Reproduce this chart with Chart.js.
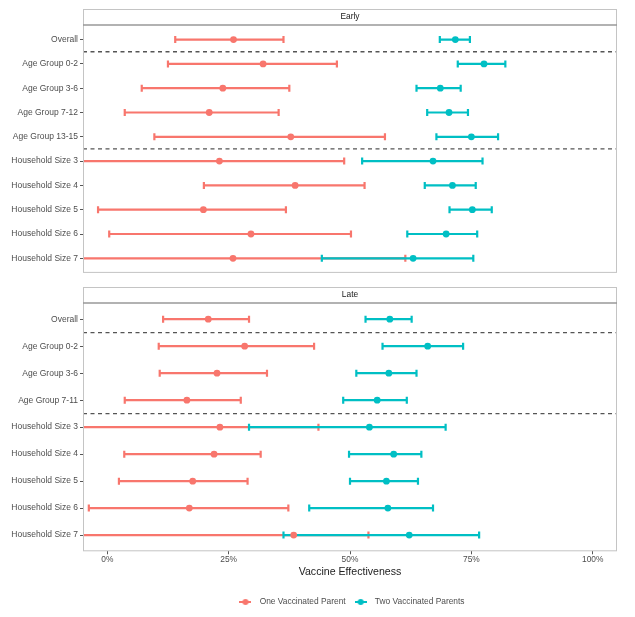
<!DOCTYPE html>
<html>
<head>
<meta charset="utf-8">
<script src="https://cdn.jsdelivr.net/npm/chart.js@4/dist/chart.umd.min.js"></script>
<style>
  html, body { margin: 0; padding: 0; background: #ffffff; }
  #wrap { position: relative; width: 635px; height: 617px; }
  canvas { position: absolute; left: 0; }
  #c1 { top: 0; }
  #c2 { top: 280px; }
</style>
</head>
<body>
<div id="wrap">
  <canvas id="c1" width="635" height="280"></canvas>
  <canvas id="c2" width="635" height="337"></canvas>
</div>
<script>
// ---------- DATA ----------
const earlyLabels = ['Overall', 'Age Group 0-2', 'Age Group 3-6', 'Age Group 7-12', 'Age Group 13-15',
  'Household Size 3', 'Household Size 4', 'Household Size 5', 'Household Size 6', 'Household Size 7'];
const lateLabels = ['Overall', 'Age Group 0-2', 'Age Group 3-6', 'Age Group 7-11',
  'Household Size 3', 'Household Size 4', 'Household Size 5', 'Household Size 6', 'Household Size 7'];

const earlyOneEst  = [26.0, 32.1, 23.8, 21.0, 37.8, 23.1, 38.7, 19.8, 29.6, 25.9];
const earlyOneLow  = [14.0, 12.5, 7.1, 3.6, 9.7, -9.0, 19.9, -1.9, 0.4, -8.0];
const earlyOneHigh = [36.3, 47.3, 37.5, 35.3, 57.2, 48.8, 53.0, 36.8, 50.2, 61.4];
const earlyTwoEst  = [71.7, 77.6, 68.6, 70.4, 75.0, 67.1, 71.1, 75.2, 69.8, 63.0];
const earlyTwoLow  = [68.5, 72.2, 63.7, 65.9, 67.8, 52.5, 65.4, 70.5, 61.8, 44.2];
const earlyTwoHigh = [74.7, 82.0, 72.8, 74.3, 80.5, 77.3, 75.9, 79.2, 76.2, 75.4];

const lateOneEst  = [20.8, 28.3, 22.6, 16.4, 23.2, 22.0, 17.6, 16.9, 38.4];
const lateOneLow  = [11.5, 10.6, 10.8, 3.6, -10.0, 3.5, 2.4, -3.8, -9.0];
const lateOneHigh = [29.2, 42.6, 32.9, 27.5, 43.5, 31.6, 28.9, 37.3, 53.8];
const lateTwoEst  = [58.2, 66.0, 58.0, 55.6, 54.0, 59.0, 57.5, 57.8, 62.2];
const lateTwoLow  = [53.2, 56.7, 51.3, 48.6, 29.2, 49.8, 50.0, 41.6, 36.3];
const lateTwoHigh = [62.7, 73.3, 63.7, 61.7, 69.7, 64.7, 64.0, 67.1, 76.6];

const earlySeparators = [1.5, 5.5];
const lateSeparators = [1.5, 4.5];
const xTicks = [0, 25, 50, 75, 100];
const seriesNames = ['One Vaccinated Parent', 'Two Vaccinated Parents'];
const panelTitles = ['Early', 'Late'];

// ---------- STYLE ----------
const RED = '#F8766D';
const CYAN = '#00BFC4';
const FONT = '"Liberation Sans", Arial, Helvetica, sans-serif';
const TEXT = '#4d4d4d';

function makeKey(color) {
  const c = document.createElement('canvas');
  c.width = 12; c.height = 8;
  const g = c.getContext('2d');
  g.strokeStyle = color; g.lineWidth = 2;
  g.beginPath(); g.moveTo(0, 4); g.lineTo(12, 4); g.stroke();
  g.fillStyle = color;
  g.beginPath(); g.arc(6, 4, 3, 0, Math.PI * 2); g.fill();
  return c;
}
const keyImgs = [makeKey(RED), makeKey(CYAN)];

function ds(name, est, lo, hi, color) {
  return {
    label: name,
    data: est.map((v, i) => ({x: v, y: i + 1})),
    errLow: lo, errHigh: hi,
    backgroundColor: color, borderColor: color,
    pointRadius: 3.4, pointHoverRadius: 3.4, borderWidth: 0,
    pointStyle: 'circle'
  };
}

const panelPlugin = {
  id: 'panel',
  beforeDatasetsDraw(chart) {
    const {ctx, chartArea: a, scales} = chart;
    const x = scales.x, y = scales.y;
    const o = chart.options.plugins.panel;
    ctx.save();
    // strip
    ctx.fillStyle = '#ffffff';
    ctx.fillRect(a.left, a.top - 16, a.right - a.left, 16);
    ctx.fillStyle = '#1a1a1a';
    ctx.font = '8.4px ' + FONT;
    ctx.textAlign = 'center'; ctx.textBaseline = 'middle';
    ctx.fillText(o.title, (a.left + a.right) / 2, a.top - 8);
    // separators
    ctx.strokeStyle = '#555555'; ctx.lineWidth = 1.3;
    ctx.setLineDash([4, 3.5]);
    o.separators.forEach(s => {
      const py = y.getPixelForValue(s);
      ctx.beginPath(); ctx.moveTo(a.left, py); ctx.lineTo(a.right, py); ctx.stroke();
    });
    ctx.setLineDash([]);
    // error bars
    ctx.beginPath(); ctx.rect(a.left, a.top, a.right - a.left, a.bottom - a.top); ctx.clip();
    chart.data.datasets.forEach(d => {
      ctx.strokeStyle = d.borderColor; ctx.lineWidth = 2.2;
      d.data.forEach((p, i) => {
        const py = y.getPixelForValue(p.y);
        const x1 = x.getPixelForValue(d.errLow[i]);
        const x2 = x.getPixelForValue(d.errHigh[i]);
        ctx.beginPath();
        ctx.moveTo(x1, py); ctx.lineTo(x2, py);
        ctx.moveTo(x1, py - 3.5); ctx.lineTo(x1, py + 3.5);
        ctx.moveTo(x2, py - 3.5); ctx.lineTo(x2, py + 3.5);
        ctx.stroke();
      });
    });
    ctx.restore();
  },
  afterDraw(chart) {
    const {ctx, chartArea: a} = chart;
    ctx.save();
    ctx.strokeStyle = '#c4c4c4'; ctx.lineWidth = 1;
    ctx.strokeRect(a.left + 0.5, a.top - 16 + 0.5, a.right - a.left - 1, a.bottom - a.top + 16 - 1);
    ctx.strokeStyle = '#999999'; ctx.lineWidth = 1.3;
    ctx.beginPath(); ctx.moveTo(a.left, a.top); ctx.lineTo(a.right, a.top); ctx.stroke();
    ctx.restore();
  }
};

function yScale(labels) {
  return {
    type: 'linear', reverse: true, min: 0.4, max: labels.length + 0.6,
    afterBuildTicks(s) { s.ticks = labels.map((_, i) => ({value: i + 1})); },
    afterFit(s) { s.width = 83; },
    ticks: {
      autoSkip: false, padding: 2, color: TEXT,
      font: {family: FONT, size: 8.5},
      callback: (v) => labels[Math.round(v) - 1]
    },
    grid: {drawOnChartArea: false, drawTicks: true, tickLength: 3, color: '#555555', lineWidth: 1},
    border: {display: false}
  };
}

function build(canvasId, labels, sets, separators, title, bottomAxis) {
  const xs = {
    type: 'linear', min: -5, max: 105, display: bottomAxis,
    afterBuildTicks(s) { s.ticks = xTicks.map(v => ({value: v})); },
    ticks: {color: TEXT, font: {family: FONT, size: 8.4}, padding: 0, callback: v => v + '%'},
    grid: {drawOnChartArea: false, drawTicks: true, tickLength: 3, color: '#555555', lineWidth: 1},
    border: {display: false},
    title: {display: true, text: 'Vaccine Effectiveness', color: '#222222',
      font: {family: FONT, size: 10.6}, padding: {top: 0, bottom: 14}}
  };
  if (bottomAxis) xs.afterFit = (s) => { s.height = 41.5; };
  return new Chart(document.getElementById(canvasId), {
    type: 'scatter',
    data: {datasets: sets},
    options: {
      responsive: false, animation: false, devicePixelRatio: 1,
      layout: {padding: bottomAxis ? {top: 23, right: 18, left: 0, bottom: 0.8} : {top: 25, right: 18, left: 0, bottom: 7}},
      scales: {x: xs, y: yScale(labels)},
      plugins: {
        panel: {separators, title},
        tooltip: {enabled: false},
        legend: {
          display: bottomAxis, position: 'bottom', fullSize: false,
          labels: {
            usePointStyle: true, pointStyleWidth: 20, padding: 5,
            color: TEXT, font: {family: FONT, size: 8.4},
            generateLabels(chart) {
              const items = Chart.defaults.plugins.legend.labels.generateLabels(chart);
              items.forEach((it, i) => { it.pointStyle = keyImgs[i]; it.fontColor = TEXT; });
              return items;
            }
          }
        }
      }
    },
    plugins: [panelPlugin]
  });
}

build('c1', earlyLabels, [
  ds(seriesNames[0], earlyOneEst, earlyOneLow, earlyOneHigh, RED),
  ds(seriesNames[1], earlyTwoEst, earlyTwoLow, earlyTwoHigh, CYAN)
], earlySeparators, panelTitles[0], false);

build('c2', lateLabels, [
  ds(seriesNames[0], lateOneEst, lateOneLow, lateOneHigh, RED),
  ds(seriesNames[1], lateTwoEst, lateTwoLow, lateTwoHigh, CYAN)
], lateSeparators, panelTitles[1], true);
</script>
</body>
</html>
